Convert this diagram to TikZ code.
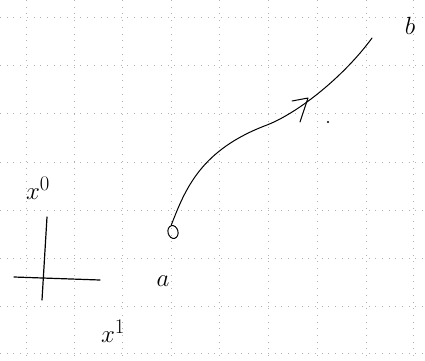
\documentclass[tikz,border=0pt]{standalone}
\usetikzlibrary{calc,shapes.geometric}
\begin{document}
\begin{tikzpicture}[x=1pt,y=-1pt,
  gridline/.style={gray!60, line width=0.5pt, dash pattern=on 0.7pt off 6pt},
  ink/.style={black, line width=1pt, line cap=round, line join=round},
  lbl/.style={inner sep=0pt, font=\fontsize{30}{30}\selectfont},
  ptmark/.style={ellipse, draw, line width=1pt, minimum width=10pt, minimum height=13pt, inner sep=0pt},
  dotmark/.style={circle, fill=black, minimum size=2.2pt, inner sep=0pt}]
\useasboundingbox (0,0) rectangle (425,360);
% grid paper
\foreach \yy in {17,65,113,162,210,258,306,353}
  \draw[gridline] (0,\yy) -- (425,\yy);
\foreach \xx in {26,74,122,171,219,268,317,366,413}
  \draw[gridline] (\xx,0) -- (\xx,360);
% axes
\coordinate (vtop) at (47,217);
\coordinate (vbot) at (42,300);
\coordinate (hl) at (14,277);
\coordinate (hr) at (100,280);
\draw[ink, line width=1.2pt] (vtop) -- (vbot);
\draw[ink, line width=1.2pt] (hl) -- (hr);
\node[lbl] (x0) at (38,188) {$x^0$};
\node[lbl] (x1) at (113,331) {$x^1$};
% curve
\node[ptmark, rotate=15] (pa) at (173,232) {};
\coordinate (pb) at (372,38);
\node[lbl] (la) at (163,281) {$a$};
\node[lbl] (lb) at (410,26) {$b$};
\draw[ink] (pa.north) .. controls (185,190) and (200,150) .. (267,125)
  .. controls (300,112) and (345,75) .. (pb);
% hand-drawn arrow mark
\coordinate (ah1) at (292,101);
\coordinate (ah2) at (308,98);
\coordinate (ah3) at (300,122);
\draw[ink] (ah1) -- (ah2) -- (ah3);
\node[dotmark] (dt) at (328,122) {};
\end{tikzpicture}
\end{document}
